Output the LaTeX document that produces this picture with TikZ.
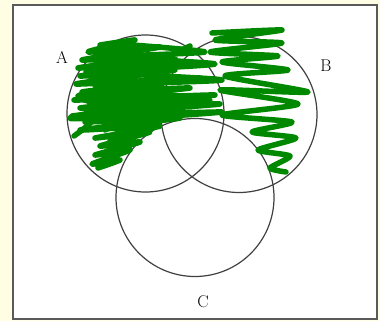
\documentclass[tikz,border=0pt]{standalone}
\definecolor{paper}{RGB}{255,253,228}
\definecolor{penGreen}{RGB}{0,136,0}
\definecolor{frameGray}{RGB}{90,90,90}
\tikzset{
  setline/.style={line width=1.2pt, black!75},
  scribble/.style={penGreen, line width=5.5pt, line cap=round, line join=round},
  setlabel/.style={font=\fontsize{17}{19}\selectfont}
}
\begin{document}
\begin{tikzpicture}[x=1pt, y=-1pt]
   % Page and frame
   \fill[paper] (0,0) rectangle (380,321);
   \useasboundingbox (0,0) rectangle (380,321);
   \draw[frameGray, line width=1.4pt, fill=white] (13,5) rectangle (377,319);

   % Circles
   \draw[setline] (145.5,113.5) circle[radius=78.5pt];
   \draw[setline] (239,114.5) circle[radius=78pt];
   \draw[setline] (195,197.5) circle[radius=79pt];

   % Green scribbles
   \draw[scribble] plot[smooth, tension=0.4] coordinates {
     (100,45) (135,40) (88,52) (160,47) (82,60) (170,55) (78,68) (185,62)
     (80,76) (175,70) (76,84) (200,78) (82,92) (190,88) (74,100) (215,95)
     (80,108) (220,104) (72,116) (222,112) (85,122) (180,118) (80,130)
     (160,126) (95,138) (150,132) (100,146) (140,142) (95,155) (130,150)
     (92,164) (120,160) (98,168)};
   \draw[scribble] plot[smooth, tension=0.4] coordinates {
     (120,44) (205,52) (112,57) (215,64) (105,72) (222,80) (95,86)
     (210,100) (90,104) (160,98) (100,118) (140,110) (105,130)};
   \draw[scribble] plot[smooth, tension=0.6] coordinates {
     (98,166) (118,148) (104,156) (132,128) (110,140) (150,104)
     (124,114) (166,80) (140,90) (176,60) (150,66) (190,46)};
   \draw[scribble] plot[smooth, tension=0.6] coordinates {
     (74,136) (92,120) (70,118) (102,108) (78,96) (112,90) (86,72)
     (124,66) (96,52) (130,48)};
   \draw[scribble] plot[smooth, tension=0.4] coordinates {
     (212,33) (282,30) (215,40) (282,43) (210,52) (278,56) (222,62)
     (288,70) (225,76) (308,92) (220,90) (298,104) (222,115) (292,122)
     (252,132) (296,138) (258,150) (290,156) (270,168) (286,172)};

   % Labels
   \node[setlabel] (labA) at (62,57) {A};
   \node[setlabel] (labB) at (326,66) {B};
   \node[setlabel] (labC) at (203,302) {C};
\end{tikzpicture}
\end{document}
